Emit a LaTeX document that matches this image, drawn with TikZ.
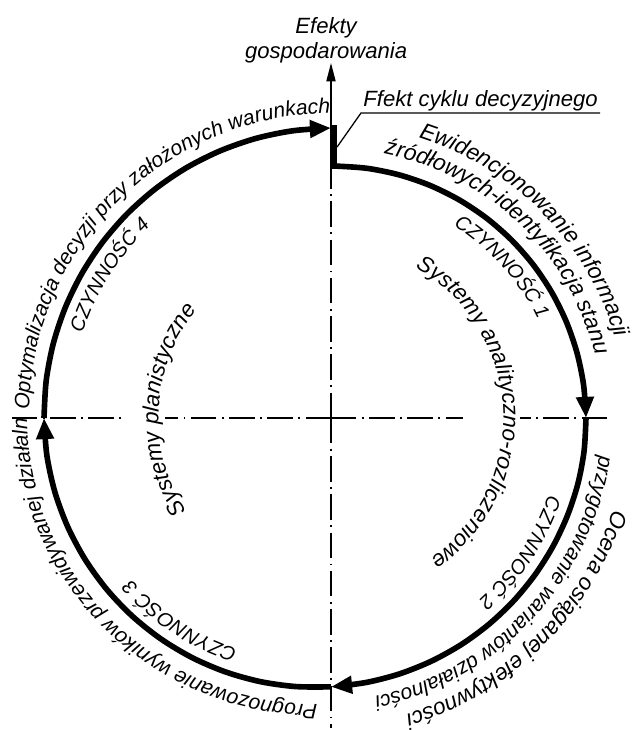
\documentclass[tikz,border=0pt]{standalone}
\usepackage{fontspec}
\setmainfont{Liberation Sans}
\usetikzlibrary{arrows.meta,calc,positioning,decorations.text}

\newcommand{\letterL}{\fontsize{16.2pt}{18pt}\selectfont\itshape}
\newcommand{\letterM}{\fontsize{16pt}{18pt}\selectfont\itshape}
\newcommand{\letterS}{\fontsize{15pt}{18pt}\selectfont\itshape}
\newcommand{\letterC}{\fontsize{14.2pt}{18pt}\selectfont\itshape}

\begin{document}
\begin{tikzpicture}[
            x=0.025cm, y=0.025cm,
            declare function={
                ssf(\x)=min(max(\x,0),1)*min(max(\x,0),1)*(3-2*min(max(\x,0),1));
                rsp(\x)=252+12*(90-\x)/360+26*ssf(((90-\x)/360-0.3)/0.45);
            },
            axis_line/.style={line width=0.9pt, dash pattern=on 18pt off 4pt on 1.2pt off 4pt},
            thin_line/.style={line width=0.9pt},
            cycle_arc/.style={line width=4pt, -{Triangle[length=15pt,width=12pt]}},
            effect_step/.style={line width=4pt, line cap=rect},
            label_text/.style={font=\fontsize{15.7pt}{17.8pt}\selectfont\itshape, inner sep=1.5pt},
            arc_text/.style={decorate, decoration={text along path, text align=center, text={#1}}}
        ]
            \useasboundingbox (-331,-312) rectangle (301,418);

            % Axes
            \coordinate (center) at (0,0);
            \coordinate (h_left) at (-319,0);
            \coordinate (h_gap_left) at (-208,0);
            \coordinate (h_gap_left2) at (-166,0);
            \coordinate (h_gap_right) at (132,0);
            \coordinate (h_gap_right2) at (189,0);
            \coordinate (h_right) at (276,0);
            \coordinate (v_top) at (0,355);
            \coordinate (v_mid) at (0,245);
            \coordinate (v_bottom) at (0,-310);
            \draw[axis_line] (center) -- (h_gap_left2);
            \draw[axis_line] (center) -- (h_gap_right);
            \draw[axis_line] (h_left) -- (h_gap_left);
            \draw[axis_line] (h_right) -- (h_gap_right2);
            \draw[axis_line] (center) -- (v_mid);
            \draw[axis_line] (center) -- (v_bottom);
            \draw[thin_line, -{Triangle[length=13pt,width=6.5pt]}] (v_mid) -- (v_top);

            % The decision cycle
            \coordinate (arc1_start) at (89.3:{rsp(89.3)});
            \coordinate (step_top) at ($(arc1_start)+(0,38)$);
            \coordinate (step_mid) at ($(arc1_start)+(3,19)$);
            \draw[effect_step] (step_top) -- (arc1_start);
            \draw[cycle_arc] plot[domain=89.3:0, samples=13, smooth] ({\x}:{rsp(\x)});
            \draw[cycle_arc] plot[domain=0:-90, samples=13, smooth] ({\x}:{rsp(\x)});
            \draw[cycle_arc] plot[domain=-90:-180, samples=13, smooth] ({\x}:{rsp(\x)});
            \draw[cycle_arc] plot[domain=-180:-270, samples=13, smooth] ({\x}:{rsp(\x)});

            % Top labels
            \node[label_text, align=center, anchor=south, inner sep=0pt, xshift=-3.5pt] (effects) at (v_top) {Efekty\\gospodarowania};
            \node[label_text, anchor=south west] (effect_note) at (30,305) {Ffekt cyklu decyzyjnego};
            \draw[thin_line] (step_mid) -- (effect_note.south west) -- (effect_note.south east);

            % Activity 1
            \path[arc_text={|\letterL|Ewidencjonowanie informacji}] plot[domain=84.25:4.25, samples=50] ({\x}:{rsp(\x)+41});
            \path[arc_text={|\letterL|źródłowych-identyfikacja stanu}] plot[domain=88:4, samples=50] ({\x}:{rsp(\x)+17});
            \path[arc_text={|\letterC|CZYNNOŚĆ 1}] plot[domain=66.5:16.5, samples=30] ({\x}:{rsp(\x)-25});
            % Activity 2
            \path[arc_text={|\letterM|Ocena osiąganej efektywności}] plot[domain=-4.7:-88.7, samples=50] ({\x}:{rsp(\x)+41});
            \path[arc_text={|\letterS|przygotowanie wariantów działalności}] plot[domain=-0.35:-88.35, samples=50] ({\x}:{rsp(\x)+15.5});
            \path[arc_text={|\letterC|CZYNNOŚĆ 2}] plot[domain=-10.25:-60.25, samples=30] ({\x}:{rsp(\x)-25});
            % Activity 3
            \path[arc_text={|\letterS|Prognozowanie wyników przewidywanej działaln}] plot[domain=-75.8:-195.8, samples=60] ({\x}:{rsp(\x)+17});
            \path[arc_text={|\letterC|CZYNNOŚĆ 3}] plot[domain=-101.35:-151.35, samples=30] ({\x}:{rsp(\x)-25});
            % Activity 4
            \path[arc_text={|\letterS|Optymalizacja decyzji przy założonych warunkach}] plot[domain=-165.65:-285.65, samples=60] ({\x}:{rsp(\x)+15});
            \path[arc_text={|\letterC|CZYNNOŚĆ 4}] plot[domain=-187.75:-237.75, samples=30] ({\x}:{rsp(\x)-25});

            % Systems
            \path[arc_text={|\letterM|Systemy analityczno-rozliczeniowe}] plot[domain=77.75:-72.25, samples=60] ({\x}:172.5);
            \path[arc_text={|\letterM|Systemy planistyczne}] plot[domain=237:117, samples=50] ({\x}:172.5);
        \end{tikzpicture}
\end{document}
